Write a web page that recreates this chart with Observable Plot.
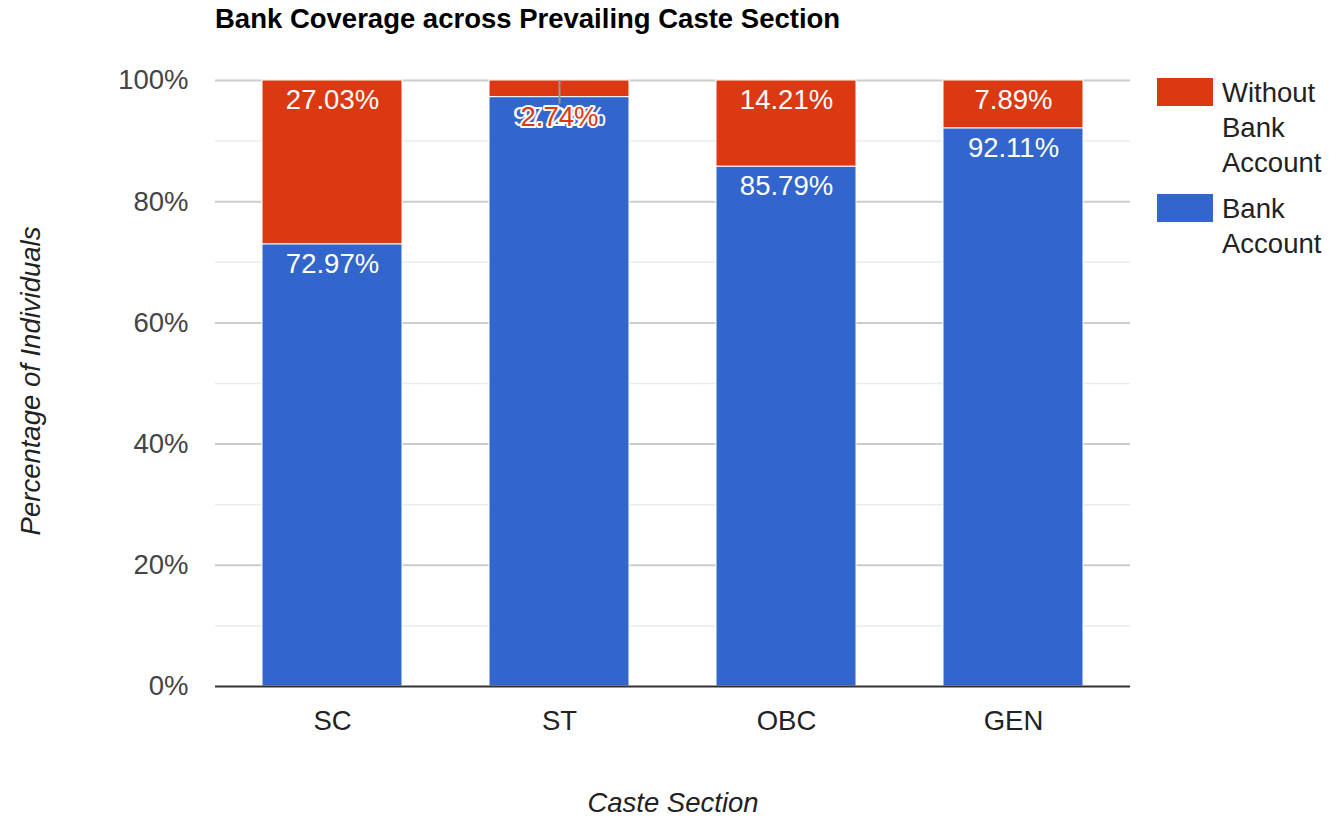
<!DOCTYPE html>
<html>
<head>
<meta charset="utf-8">
<script src="https://cdn.jsdelivr.net/npm/d3@7"></script>
<script src="https://cdn.jsdelivr.net/npm/@observablehq/plot@0.6"></script>
<style>
  html, body { margin: 0; padding: 0; background: #fff; }
  #wrap { position: relative; width: 1330px; height: 818px; font-family: "Liberation Sans", Arial, sans-serif; }
  #title { position: absolute; left: 215px; top: 3px; font-size: 27.5px; font-weight: bold; color: #000; white-space: nowrap; }
  #ylab { position: absolute; left: 31px; top: 381px; transform: translate(-50%, -50%) rotate(-90deg); font-size: 27.5px; font-style: italic; color: #222; white-space: nowrap; }
  #xlab { position: absolute; left: 673px; top: 803px; transform: translate(-50%, -50%); font-size: 27.5px; font-style: italic; color: #222; white-space: nowrap; }
  .leg { position: absolute; left: 1157px; }
  .sw { position: absolute; left: 0; width: 56px; height: 28px; }
  .lt { position: absolute; left: 65px; font-size: 27.5px; line-height: 35px; color: #222; white-space: nowrap; }
  svg { position: absolute; left: 0; top: 0; }
</style>
</head>
<body>
<div id="wrap">
  <div id="chart"></div>
  <div id="title">Bank Coverage across Prevailing Caste Section</div>
  <div id="ylab">Percentage of Individuals</div>
  <div id="xlab">Caste Section</div>
  <div id="legend"></div>
</div>
<script>
const categories = ["SC", "ST", "OBC", "GEN"];
const bankAccount = [72.97, 97.26, 85.79, 92.11];
const withoutBank = [27.03, 2.74, 14.21, 7.89];
const seriesNames = ["Bank Account", "Without Bank Account"];
const seriesColors = ["#3366cc", "#dc3912"];
const yTicks = [0, 20, 40, 60, 80, 100];
const minorGrid = [10, 30, 50, 70, 90];

const rows = [];
categories.forEach((c, i) => {
  rows.push({cat: c, series: seriesNames[0], value: bankAccount[i]});
  rows.push({cat: c, series: seriesNames[1], value: withoutBank[i]});
});

// labels at the top of each segment; a segment too thin for its label shares the anchor of the one below
const labels = [];
categories.forEach((c, i) => {
  labels.push({cat: c, top: bankAccount[i], text: bankAccount[i].toFixed(2) + "%", fill: "white", halo: false});
  const thin = withoutBank[i] < 5;
  labels.push({cat: c, top: thin ? bankAccount[i] : 100, text: withoutBank[i].toFixed(2) + "%", fill: thin ? seriesColors[1] : "white", halo: thin});
});
const leaders = categories.map((c, i) => ({cat: c, y1: 100, y2: bankAccount[i], thin: withoutBank[i] < 5})).filter(d => d.thin);

const chart = Plot.plot({
  width: 1330,
  height: 818,
  marginLeft: 215,
  marginRight: 200,
  marginTop: 80,
  marginBottom: 132,
  style: {fontFamily: "'Liberation Sans', Arial, sans-serif", fontSize: "27.5px", background: "white"},
  x: {domain: categories, paddingInner: 0.385, paddingOuter: 0.2, label: null},
  y: {domain: [0, 100], label: null},
  color: {domain: seriesNames, range: seriesColors},
  marks: [
    Plot.ruleY(minorGrid, {stroke: "#ebebeb", strokeWidth: 1.5}),
    Plot.ruleY(yTicks.filter(d => d > 0), {stroke: "#cccccc", strokeWidth: 2}),
    Plot.barY(rows, {x: "cat", y: "value", fill: "series", stroke: "white", strokeWidth: 1, order: seriesNames}),
    Plot.ruleY([0], {stroke: "#333", strokeWidth: 2}),
    Plot.ruleX(leaders, {x: "cat", y1: "y1", y2: "y2", stroke: "#999", strokeWidth: 2, insetBottom: -7}),
    Plot.text(labels.filter(d => !d.halo), {x: "cat", y: "top", text: "text", fill: "fill", dy: 20, fontSize: 27.5}),
    Plot.text(labels.filter(d => d.halo), {x: "cat", y: "top", text: "text", fill: "fill", stroke: "white", strokeWidth: 4, dy: 20, fontSize: 27.5}),
    Plot.axisY({ticks: yTicks, tickFormat: d => d + "%", tickSize: 0, tickPadding: 27, color: "#444", fontSize: 27.5, label: null}),
    Plot.axisX({tickSize: 0, tickPadding: 24, color: "#222", fontSize: 27.5, label: null})
  ]
});
document.getElementById("chart").appendChild(chart);

// legend (top to bottom: Without Bank Account, Bank Account)
const legendItems = [
  {top: 78, color: seriesColors[1], lines: ["Without", "Bank", "Account"]},
  {top: 194, color: seriesColors[0], lines: ["Bank", "Account"]}
];
const leg = document.getElementById("legend");
legendItems.forEach(item => {
  const g = document.createElement("div");
  g.className = "leg";
  g.style.top = item.top + "px";
  const sw = document.createElement("div");
  sw.className = "sw";
  sw.style.background = item.color;
  g.appendChild(sw);
  const t = document.createElement("div");
  t.className = "lt";
  t.style.top = "-3px";
  t.innerHTML = item.lines.join("<br>");
  g.appendChild(t);
  leg.appendChild(g);
});
</script>
</body>
</html>
